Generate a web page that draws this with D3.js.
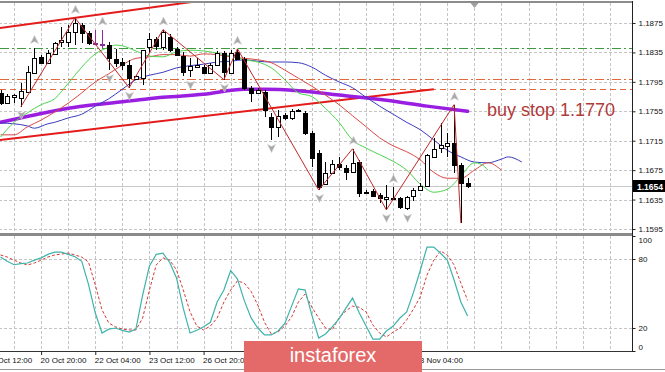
<!DOCTYPE html>
<html>
<head>
<meta charset="utf-8">
<script src="https://cdn.jsdelivr.net/npm/d3@7"></script>
<style>
  body { margin: 0; background: #fff; }
  svg { display: block; }
  text { font-family: 'Liberation Sans', Arial, sans-serif; }
</style>
</head>
<body>
<svg id="chart" width="665" height="372"></svg>
<script>
// EURUSD H4 - candles, alligator, long MA, zigzag, stochastic

const opens = [1.1780, 1.1766, 1.1774, 1.1774, 1.1781, 1.1807, 1.1829, 1.1821, 1.1833, 1.1849,
  1.1849, 1.1863, 1.1872, 1.1861, 1.1848, 1.1847, 1.1845, 1.1826, 1.1822, 1.1818,
  1.1799, 1.1800, 1.1842, 1.1853, 1.1842, 1.1856, 1.1840, 1.1830, 1.1811, 1.1815,
  1.1815, 1.1807, 1.1818, 1.1834, 1.1807, 1.1836, 1.1826, 1.1787, 1.1780, 1.1781,
  1.1747, 1.1734, 1.1750, 1.1745, 1.1755, 1.1753, 1.1726, 1.1698, 1.1656, 1.1671,
  1.1683, 1.1678, 1.1673, 1.1686, 1.1644, 1.1647, 1.1641, 1.1636, 1.1636, 1.1637,
  1.1624, 1.1640, 1.1648, 1.1654, 1.1693, 1.1705, 1.1708, 1.1712, 1.1682, 1.1658];
const highs = [1.1784, 1.1779, 1.1779, 1.1793, 1.1817, 1.1841, 1.1832, 1.1838, 1.1849, 1.1870,
  1.1872, 1.1882, 1.1875, 1.1864, 1.1866, 1.1866, 1.1849, 1.1840, 1.1827, 1.1825,
  1.1804, 1.1838, 1.1861, 1.1856, 1.1866, 1.1860, 1.1842, 1.1836, 1.1827, 1.1827,
  1.1818, 1.1821, 1.1837, 1.1837, 1.1838, 1.1840, 1.1829, 1.1789, 1.1787, 1.1784,
  1.1753, 1.1757, 1.1753, 1.1758, 1.1758, 1.1755, 1.1728, 1.1702, 1.1686, 1.1689,
  1.1693, 1.1682, 1.1704, 1.1689, 1.1648, 1.1649, 1.1644, 1.1655, 1.1652, 1.1639,
  1.1640, 1.1651, 1.1658, 1.1697, 1.1719, 1.1739, 1.1725, 1.1764, 1.1685, 1.1664];
const lows = [1.1764, 1.1765, 1.1766, 1.1761, 1.1780, 1.1806, 1.1819, 1.1819, 1.1832, 1.1842,
  1.1842, 1.1845, 1.1848, 1.1845, 1.1845, 1.1841, 1.1811, 1.1815, 1.1811, 1.1787,
  1.1798, 1.1791, 1.1834, 1.1838, 1.1838, 1.1836, 1.1830, 1.1803, 1.1802, 1.1814,
  1.1806, 1.1806, 1.1817, 1.1798, 1.1806, 1.1825, 1.1784, 1.1768, 1.1779, 1.1747,
  1.1716, 1.1720, 1.1743, 1.1743, 1.1754, 1.1723, 1.1679, 1.1648, 1.1655, 1.1670,
  1.1675, 1.1662, 1.1671, 1.1639, 1.1643, 1.1639, 1.1630, 1.1621, 1.1634, 1.1622,
  1.1621, 1.1633, 1.1647, 1.1652, 1.1692, 1.1698, 1.1693, 1.1671, 1.1603, 1.1651];
const closes = [1.1766, 1.1776, 1.1777, 1.1783, 1.1808, 1.1827, 1.1821, 1.1834, 1.1848, 1.1852,
  1.1863, 1.1875, 1.1861, 1.1847, 1.1847, 1.1845, 1.1827, 1.1821, 1.1818, 1.1800,
  1.1803, 1.1838, 1.1853, 1.1844, 1.1863, 1.1838, 1.1832, 1.1808, 1.1817, 1.1818,
  1.1807, 1.1818, 1.1834, 1.1808, 1.1834, 1.1826, 1.1787, 1.1780, 1.1784, 1.1757,
  1.1734, 1.1749, 1.1746, 1.1755, 1.1757, 1.1726, 1.1692, 1.1652, 1.1671, 1.1683,
  1.1679, 1.1673, 1.1685, 1.1644, 1.1645, 1.1640, 1.1637, 1.1639, 1.1637, 1.1625,
  1.1639, 1.1648, 1.1654, 1.1696, 1.1704, 1.1709, 1.1712, 1.1682, 1.1658, 1.1654];
const markedBars = [14, 15];

// alligator (read at every other bar, lines run past the last candle)
const jawIdx = [0, 2, 4, 5, 7, 8, 10, 12, 14, 16, 18, 20, 22, 24, 26, 28, 30, 32, 34, 36, 38, 40,
  42, 44, 46, 48, 50, 52, 54, 56, 58, 60, 62, 64, 66, 68, 70, 72, 74, 75, 77];
const jawVal = [1.1739, 1.1738, 1.1735, 1.1732, 1.1738, 1.1740, 1.1746, 1.1751, 1.1762, 1.1772,
  1.1785, 1.1798, 1.1804, 1.1808, 1.1814, 1.1817, 1.1819, 1.1822, 1.1823, 1.1825, 1.1823,
  1.1822, 1.1822, 1.1821, 1.1815, 1.1804, 1.1795, 1.1787, 1.1774, 1.1762, 1.1751, 1.1740,
  1.1730, 1.1716, 1.1702, 1.1693, 1.1686, 1.1685, 1.1690, 1.1693, 1.1686];
const teethIdx = [0, 2, 4, 6, 8, 10, 12, 14, 16, 18, 20, 22, 24, 26, 28, 30, 32, 34, 36, 38, 40,
  42, 44, 46, 48, 50, 52, 54, 56, 58, 60, 62, 64, 66, 68, 70, 72, 74];
const teethVal = [1.1723, 1.1723, 1.1734, 1.1743, 1.1754, 1.1766, 1.1780, 1.1795, 1.1806, 1.1818,
  1.1827, 1.1829, 1.1832, 1.1832, 1.1830, 1.1833, 1.1832, 1.1829, 1.1827, 1.1825, 1.1821,
  1.1811, 1.1800, 1.1789, 1.1777, 1.1764, 1.1749, 1.1734, 1.1719, 1.1708, 1.1700, 1.1689,
  1.1672, 1.1664, 1.1664, 1.1675, 1.1685, 1.1675];
const lipsIdx = [0, 2, 4, 6, 8, 10, 12, 14, 16, 17, 18, 20, 22, 24, 26, 28, 30, 32, 34, 36, 38, 40,
  42, 44, 46, 48, 50, 52, 54, 56, 58, 60, 62, 64, 66, 68, 70, 71, 72];
const lipsVal = [1.1720, 1.1740, 1.1753, 1.1764, 1.1772, 1.1793, 1.1815, 1.1833, 1.1842, 1.1845,
  1.1844, 1.1837, 1.1830, 1.1829, 1.1836, 1.1838, 1.1837, 1.1834, 1.1830, 1.1825, 1.1822,
  1.1814, 1.1798, 1.1780, 1.1775, 1.1759, 1.1740, 1.1716, 1.1705, 1.1696, 1.1687, 1.1675,
  1.1656, 1.1645, 1.1649, 1.1667, 1.1685, 1.1683, 1.1675];
const longMaIdx = [0, 5, 10, 15, 20, 24, 30, 36, 39, 44, 50, 57, 63, 69];
const longMaVal = [1.1740, 1.1750, 1.1759, 1.1765, 1.1770, 1.1774, 1.1778, 1.1785, 1.1785,
  1.1783, 1.1777, 1.1770, 1.1762, 1.1755];

const zigIdx = [3, 11, 19, 24, 33, 35, 47, 52, 57, 67, 68];
const zigVal = [1.1761, 1.1882, 1.1787, 1.1866, 1.1798, 1.1840, 1.1648, 1.1704, 1.1621, 1.1764, 1.1603];
const fractalUp = [5, 11, 15, 24, 35, 52, 58, 67];
const fractalDown = [3, 16, 19, 28, 33, 40, 47, 57, 60];

const channelUpIdx = [-1, 31];
const channelUpVal = [1.1867, 1.1907];
const channelLowIdx = [-1, 64];
const channelLowVal = [1.1715, 1.1785];
const levelVals = [1.1841, 1.1799, 1.1785];

const stochK = [81.7, 78, 75, 76, 76.5, 79, 81, 84, 86, 86,
  84, 82, 78, 58, 33, 15.6, 19, 20, 18, 16.5,
  19, 48.7, 74, 84, 85, 77, 63.5, 37, 15.6, 18,
  21, 25, 42.6, 53, 70, 62.6, 44, 29, 20, 14,
  14, 17.4, 24, 39, 54, 53, 31, 11.3, 14.8, 21,
  28, 37, 46, 33, 21.7, 10.4, 10.4, 17.4, 21.7, 28.7,
  34, 51, 70, 90.4, 90.4, 85, 79, 61.7, 42.6, 30.4];
const stochD = [83.5, 81.7, 79, 76.5, 74.8, 76.5, 79, 81.7, 83.5, 84.3,
  85.2, 83.5, 81.7, 77.4, 57.4, 35.7, 24.3, 21, 19, 18.3,
  18.3, 28.7, 53, 74.8, 81, 79, 70.4, 53, 34, 21.7,
  18.3, 21.7, 28.7, 42.6, 53, 61, 59, 52, 40, 25,
  14.8, 16.5, 21.7, 29.6, 42.6, 49.6, 38, 28.7, 20, 18.3,
  28.7, 34.8, 39, 38, 34, 22.6, 15.6, 12.2, 16.5, 20,
  27, 36.5, 47, 66, 79, 87, 83.5, 74.8, 59, 44];

const priceTicks = [1.1595, 1.1635, 1.1675, 1.1715, 1.1755, 1.1795, 1.1835, 1.1875];
const stochTicks = [0, 20, 80, 100];
// labels under the watermark (28 Oct .. 30 Oct) are not visible, so they are left out
const timeBars = [-2, 6, 14, 22, 30, 62];
const timeLabels = ['19 Oct 12:00', '20 Oct 20:00', '22 Oct 04:00', '23 Oct 12:00', '26 Oct 20:00',
  '3 Nov 04:00'];

const barStep = 6.77;
const plotRight = 632;
const mainTop = 3;
const mainBottom = 233;
const subTop = 236;
const subBottom = 351;

const svg = d3.select('#chart');
const x = d3.scaleLinear().domain([0, 1]).range([0.5, 0.5 + barStep]);
const y = d3.scaleLinear().domain([1.1595, 1.1875]).range([229, 23]);
const ys = d3.scaleLinear().domain([0, 100]).range([subBottom, subTop]);
const px = i => Math.round(x(i)) + 0.5;

const gridBars = d3.range(-2, 94, 4);

const defs = svg.append('defs');
defs.append('clipPath').attr('id', 'clip-main')
  .append('rect').attr('x', 0).attr('y', mainTop).attr('width', plotRight).attr('height', mainBottom - mainTop);
defs.append('clipPath').attr('id', 'clip-sub')
  .append('rect').attr('x', 0).attr('y', subTop).attr('width', plotRight).attr('height', subBottom - subTop);

function styleGrid(g) {
  g.select('.domain').remove();
  g.selectAll('.tick line')
    .attr('stroke', '#c4c4c4')
    .attr('stroke-dasharray', '3,2')
    .attr('shape-rendering', 'crispEdges');
}

// ---- main pane ----
const main = svg.append('g').attr('clip-path', 'url(#clip-main)');

main.append('g')
  .attr('transform', `translate(${plotRight},0)`)
  .call(d3.axisLeft(y).tickValues(priceTicks).tickSize(plotRight).tickFormat(''))
  .call(styleGrid);
main.append('g')
  .attr('transform', `translate(0,${mainTop})`)
  .call(d3.axisBottom(x).tickValues(gridBars).tickSize(mainBottom - mainTop).tickFormat(''))
  .call(styleGrid);

// horizontal levels
const levelStyles = [
  { color: '#3f9a3f', dash: '9,3,2,3' },
  { color: '#e0683a', dash: '9,3,2,3' },
  { color: '#e0683a', dash: '6,4' },
];
main.selectAll('line.level')
  .data(levelVals)
  .enter()
  .append('line')
  .attr('class', 'level')
  .attr('x1', 0)
  .attr('x2', plotRight)
  .attr('y1', d => Math.round(y(d)) + 0.5)
  .attr('y2', d => Math.round(y(d)) + 0.5)
  .attr('stroke', (d, i) => levelStyles[i].color)
  .attr('stroke-dasharray', (d, i) => levelStyles[i].dash);

// bid line
const lastClose = closes[closes.length - 1];
main.append('line')
  .attr('x1', 0).attr('x2', plotRight)
  .attr('y1', Math.round(y(lastClose)) + 0.5)
  .attr('y2', Math.round(y(lastClose)) + 0.5)
  .attr('stroke', '#c8c8c8');

const priceLine = d3.line().x(d => x(d[0])).y(d => y(d[1]));
const smoothLine = d3.line().x(d => x(d[0])).y(d => y(d[1])).curve(d3.curveMonotoneX);
const zipPts = (a, b) => a.map((v, i) => [v, b[i]]);

// channel
main.append('path').attr('d', priceLine(zipPts(channelUpIdx, channelUpVal)))
  .attr('fill', 'none').attr('stroke', '#e41b1b').attr('stroke-width', 2);
main.append('path').attr('d', priceLine(zipPts(channelLowIdx, channelLowVal)))
  .attr('fill', 'none').attr('stroke', '#e41b1b').attr('stroke-width', 2);

// long MA
main.append('path').attr('d', smoothLine(zipPts(longMaIdx, longMaVal)))
  .attr('fill', 'none').attr('stroke', '#9a1ee0').attr('stroke-width', 3.5)
  .attr('stroke-linecap', 'round');

// alligator
main.append('path').attr('d', smoothLine(zipPts(jawIdx, jawVal)))
  .attr('fill', 'none').attr('stroke', '#3b3bc0').attr('stroke-width', 1);
main.append('path').attr('d', smoothLine(zipPts(teethIdx, teethVal)))
  .attr('fill', 'none').attr('stroke', '#d84848').attr('stroke-width', 1);
main.append('path').attr('d', smoothLine(zipPts(lipsIdx, lipsVal)))
  .attr('fill', 'none').attr('stroke', '#4cd44c').attr('stroke-width', 1);

// candles
const candles = opens.map((o, i) => ({
  i, o, h: highs[i], l: lows[i], c: closes[i], marked: markedBars.includes(i),
}));
const cg = main.append('g').attr('shape-rendering', 'crispEdges');
cg.selectAll('line.wick')
  .data(candles)
  .enter()
  .append('line')
  .attr('class', 'wick')
  .attr('x1', d => px(d.i))
  .attr('x2', d => px(d.i))
  .attr('y1', d => y(d.h))
  .attr('y2', d => y(d.l))
  .attr('stroke', d => (d.marked ? '#8e2a9e' : '#000'));
cg.selectAll('rect.body')
  .data(candles)
  .enter()
  .append('rect')
  .attr('class', 'body')
  .attr('x', d => px(d.i) - 2)
  .attr('width', 4)
  .attr('y', d => Math.round(y(Math.max(d.o, d.c))) + 0.5)
  .attr('height', d => Math.max(1, Math.round(Math.abs(y(d.o) - y(d.c)))))
  .attr('fill', d => (d.c >= d.o ? '#fff' : '#000'))
  .attr('stroke', d => (d.marked ? '#8e2a9e' : '#000'));

// zigzag
main.append('path').attr('d', priceLine(zipPts(zigIdx, zigVal)))
  .attr('fill', 'none').attr('stroke', '#c0282a').attr('stroke-width', 1);

// fractal arrows
const arrowUp = 'M0,-4.5 L4,3.5 L0,1.5 L-4,3.5 Z';
const arrowDown = 'M0,4.5 L4,-3.5 L0,-1.5 L-4,-3.5 Z';
main.selectAll('path.fup')
  .data(fractalUp)
  .enter()
  .append('path')
  .attr('class', 'fup')
  .attr('d', arrowUp)
  .attr('transform', i => `translate(${px(i)},${y(highs[i]) - 8})`)
  .attr('fill', '#a8a8a8')
  .attr('stroke', '#d0d0d0')
  .attr('stroke-width', 0.6);
main.selectAll('path.fdown')
  .data(fractalDown)
  .enter()
  .append('path')
  .attr('class', 'fdown')
  .attr('d', arrowDown)
  .attr('transform', i => `translate(${px(i)},${y(lows[i]) + 8})`)
  .attr('fill', '#a8a8a8')
  .attr('stroke', '#d0d0d0')
  .attr('stroke-width', 0.6);

// chart shift marker
svg.append('path')
  .attr('d', 'M-4,3 L4,3 L0,8 Z')
  .attr('transform', `translate(${px(70)},0)`)
  .attr('fill', '#a0a0a0');

// note
svg.append('text')
  .attr('x', 487)
  .attr('y', 115.5)
  .attr('font-size', 18)
  .attr('fill', '#b13a3a')
  .text('buy stop 1.1770');

// ---- stochastic pane ----
const sub = svg.append('g').attr('clip-path', 'url(#clip-sub)');
sub.append('g')
  .attr('transform', `translate(${plotRight},0)`)
  .call(d3.axisLeft(ys).tickValues([20, 80]).tickSize(plotRight).tickFormat(''))
  .call(styleGrid);
sub.append('g')
  .attr('transform', `translate(0,${subTop})`)
  .call(d3.axisBottom(x).tickValues(gridBars).tickSize(subBottom - subTop).tickFormat(''))
  .call(styleGrid);

const stochLine = d3.line().x((d, i) => x(i)).y(d => ys(d));
sub.append('path').attr('d', stochLine(stochD))
  .attr('fill', 'none').attr('stroke', '#d83a3a').attr('stroke-width', 1)
  .attr('stroke-dasharray', '3,2');
sub.append('path').attr('d', stochLine(stochK))
  .attr('fill', 'none').attr('stroke', '#3fb3aa').attr('stroke-width', 1.2);

// ---- frames ----
svg.append('rect').attr('x', 0).attr('y', 1).attr('width', plotRight).attr('height', 2).attr('fill', '#8c8c8c');
svg.append('rect').attr('x', 0).attr('y', mainBottom).attr('width', plotRight + 1).attr('height', 3).attr('fill', '#8a8a8a');
svg.append('line').attr('x1', 0).attr('x2', plotRight).attr('y1', subBottom + 0.5).attr('y2', subBottom + 0.5)
  .attr('stroke', '#333');
svg.append('line').attr('x1', plotRight + 0.5).attr('x2', plotRight + 0.5).attr('y1', 1).attr('y2', subBottom + 1)
  .attr('stroke', '#222');
svg.append('line').attr('x1', 0).attr('x2', 665).attr('y1', 369.5).attr('y2', 369.5).attr('stroke', '#9a9a9a');

// ---- axes ----
function styleAxis(g) {
  g.select('.domain').remove();
  g.selectAll('.tick line').attr('stroke', '#222');
  g.selectAll('.tick text').attr('font-size', 8).attr('fill', '#111')
    .attr('font-family', "'Liberation Sans', Arial, sans-serif");
}
svg.append('g')
  .attr('transform', `translate(${plotRight + 0.5},0)`)
  .call(d3.axisRight(y).tickValues(priceTicks).tickSize(3).tickPadding(3).tickFormat(d3.format('.4f')))
  .call(styleAxis);

svg.append('g')
  .attr('transform', `translate(${plotRight + 0.5},0)`)
  .call(d3.axisRight(ys).tickValues(stochTicks).tickSize(3).tickPadding(3))
  .call(styleAxis)
  .call(g => g.selectAll('.tick text')
    .attr('dy', d => (d === 100 ? '0.85em' : d === 0 ? '-0.2em' : '0.32em')));

svg.append('g')
  .attr('transform', `translate(0,${subBottom})`)
  .call(d3.axisBottom(x).tickValues(timeBars).tickSize(4).tickPadding(1)
    .tickFormat((d, i) => timeLabels[i]))
  .call(styleAxis)
  .call(g => g.selectAll('.tick text').attr('text-anchor', 'start').attr('dx', -1).attr('dy', '0.9em'));

// current price box
const priceBox = svg.append('g').attr('transform', `translate(${plotRight + 1},${Math.round(y(lastClose))})`);
priceBox.append('rect').attr('x', 0).attr('y', -6).attr('width', 32).attr('height', 12).attr('fill', '#000');
priceBox.append('text').attr('x', 4).attr('y', 3.5).attr('font-size', 8.5).attr('fill', '#fff')
  .attr('font-weight', 'bold').text(d3.format('.4f')(lastClose));

// watermark
const wm = svg.append('g');
wm.append('rect').attr('x', 244).attr('y', 341).attr('width', 178).attr('height', 31).attr('fill', '#e46a6a');
wm.append('text').attr('x', 333).attr('y', 362).attr('text-anchor', 'middle')
  .attr('font-size', 20).attr('fill', '#fff').text('instaforex');
</script>
</body>
</html>
